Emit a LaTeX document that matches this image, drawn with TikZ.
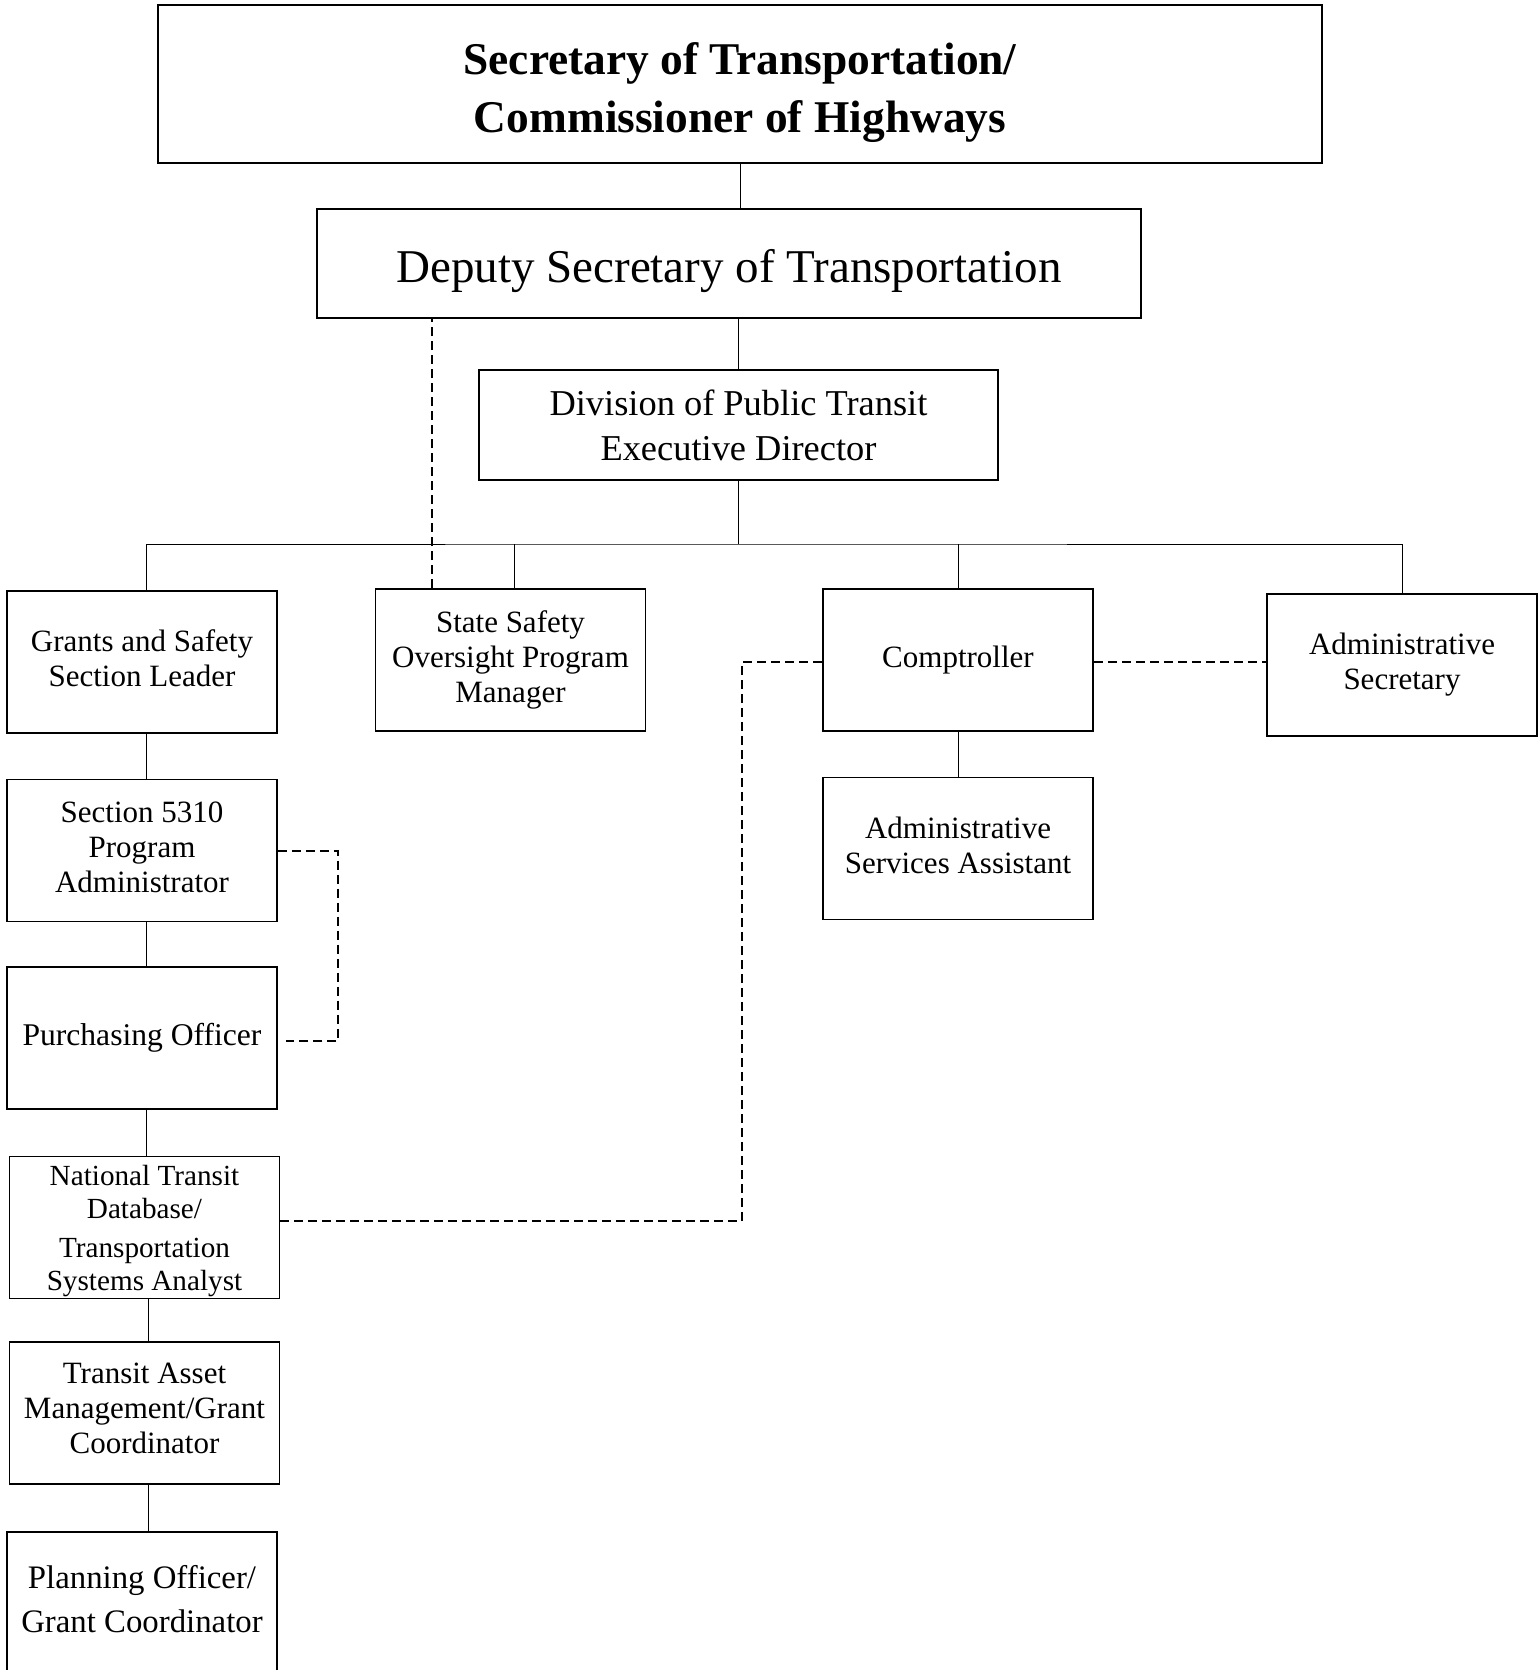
\documentclass[tikz,border=0pt]{standalone}
\usepackage{fontspec}
\setmainfont{Liberation Serif}
\usepackage{tikz}

\tikzset{
  box/.style={draw, line width=0.9pt, align=center, inner sep=2pt,
    minimum width=135pt, minimum height=71pt,
    font=\fontsize{15.5}{17.5}\selectfont},
  bigbox/.style={box, line width=1.3pt},
  link/.style={line width=0.5pt},
  dashlink/.style={line width=1pt, dash pattern=on 4.5pt off 2.5pt}
}

\begin{document}
\begin{tikzpicture}[x=0.5pt,y=-0.5pt]
\useasboundingbox (0,0) rectangle (1539,1670);

\node[bigbox, minimum width=582pt, minimum height=79pt, text depth=0pt,
  font=\bfseries\fontsize{22.7}{29}\selectfont] (sec) at (740,84)
  {\rule{0pt}{19pt}Secretary of Transportation/\\Commissioner of Highways};
\node[bigbox, minimum width=412pt, minimum height=54.5pt, text height=23.5pt, text depth=5pt,
  font=\fontsize{23.5}{28}\selectfont] (dep) at (729,263.5)
  {Deputy Secretary of Transportation};
\node[bigbox, minimum width=259.5pt, minimum height=55pt,
  font=\fontsize{18.2}{22.5}\selectfont] (div) at (738.5,425)
  {Division of Public Transit\\Executive Director};

\node[box, text depth=4pt] (grants) at (142,662) {Grants and Safety\\Section Leader};
\node[box] (ssom) at (510.5,660) {State Safety\\Oversight Program\\Manager};
\node[box] (comp) at (958,660) {Comptroller};
\node[box] (adsec) at (1402,665) {Administrative\\Secretary};
\node[box, text depth=3.5pt] (asa) at (958,848.5) {Administrative\\Services Assistant};

\node[box, text depth=3.5pt] (s5310) at (142,850.5) {Section 5310\\Program\\Administrator};
\node[box, font=\fontsize{15.8}{17.5}\selectfont] (purch) at (142,1038) {Purchasing Officer};
\node[box, text depth=0pt, font=\fontsize{14.6}{16.5}\selectfont] (ntd) at (144.5,1227.5)
  {National Transit\\Database/\\[3pt]Transportation\\Systems Analyst};
\node[box, text depth=4.5pt] (tam) at (144.5,1413) {Transit Asset\\Management/Grant\\Coordinator};
\node[box, minimum height=74pt, text depth=7pt, font=\fontsize{16.4}{22}\selectfont] (plan) at (142,1606)
  {Planning Officer/\\Grant Coordinator};

\coordinate (bus) at (738.5,544);
\coordinate (busw) at ([xshift=2pt]grants.north |- bus);
\draw[link] (sec.south) -- (sec.south |- dep.north);
\draw[link] (dep.south -| div.north) -- (div.north);
\draw[link] (div.south) -- (div.south |- bus);
\draw[link] (busw) -- (bus) -| (adsec.north);
\draw[link] (comp.north) -- (comp.north |- bus);
\draw[link, transform canvas={xshift=2pt}] (ssom.north) -- (ssom.north |- bus);
\draw[link, transform canvas={xshift=2pt}] (grants.north) -- (grants.north |- bus);
\draw[link] (comp) -- (asa);
\foreach \a/\b in {grants/s5310,s5310/purch,purch/ntd,ntd/tam,tam/plan}
  \draw[link, transform canvas={xshift=2pt}] (\a.south) -- (\a.south |- \b.north);

\coordinate (tap) at ([xshift=28.5pt]ssom.north west);
\coordinate (ntdout) at ([yshift=3.25pt]ntd.east);
\coordinate (compin) at ([yshift=-1pt]comp.west);
\coordinate (compout) at ([yshift=-1pt]comp.east);
\draw[dashlink] (tap) -- (tap |- dep.south);
\draw[dashlink] (s5310.east) -- ++(30pt,0) |- ([xshift=4pt,yshift=-1.5pt]purch.east);
\draw[dashlink] (ntdout) -- ++(231pt,0) |- (compin);
\draw[dashlink] (compout) -- (compout -| adsec.west);

\end{tikzpicture}
\end{document}
